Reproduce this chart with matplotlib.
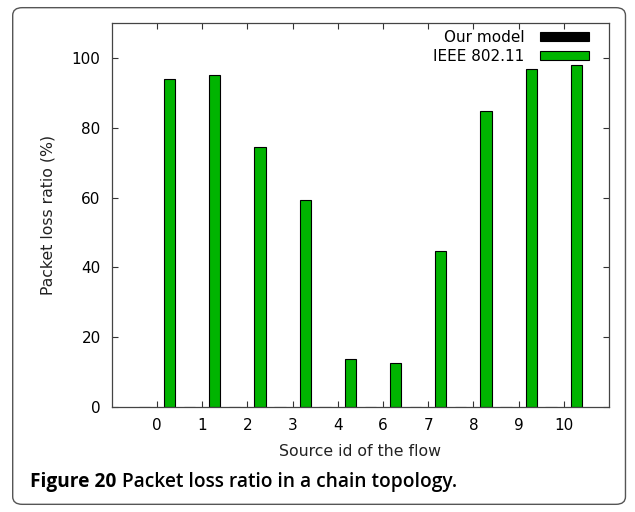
import numpy as np
import matplotlib
matplotlib.use("Agg")
import matplotlib.pyplot as plt
from matplotlib.patches import FancyBboxPatch

# data
sources = ['0', '1', '2', '3', '4', '6', '7', '8', '9', '10']
our_model = [0, 0, 0, 0, 0, 0, 0, 0, 0, 0]
ieee = [94, 95, 74.6, 59.3, 13.9, 12.5, 44.7, 84.8, 96.9, 98.0]

plt.rcParams['font.family'] = 'DejaVu Sans'

fig = plt.figure(figsize=(6.35, 5.12), dpi=100)

# rounded frame around figure + caption
frame = FancyBboxPatch((0.02, 0.015), 0.965, 0.97, boxstyle="round,pad=0,rounding_size=0.015",
                       transform=fig.transFigure, facecolor='none', edgecolor='#555555', lw=1.0,
                       zorder=0)
fig.patches.append(frame)

ax = fig.add_axes([0.176, 0.205, 0.783, 0.75])
x = np.arange(len(sources))
w = 0.25
ax.bar(x - 0.28, our_model, w, color='black', edgecolor='black', lw=0.8, label='Our model')
ax.bar(x + 0.28, ieee, w, color='#00b400', edgecolor='black', lw=0.8, label='IEEE 802.11')

ax.set_xlim(-1, 10)
ax.set_ylim(0, 110)
ax.set_xticks(x)
ax.set_xticklabels(sources)
ax.set_yticks([0, 20, 40, 60, 80, 100])
ax.tick_params(direction='in', top=True, right=True, labelsize=11, length=4, color='#333333', pad=8)
for s in ax.spines.values():
    s.set_color('#444444')
    s.set_linewidth(0.9)

ax.set_xlabel('Source id of the flow', fontsize=11.3, color='#222222', labelpad=8)
ax.set_ylabel('Packet loss ratio (%)', fontsize=11.3, color='#222222', labelpad=12)

leg = ax.legend(loc='upper right', bbox_to_anchor=(0.965, 0.99), markerfirst=False, frameon=False,
                fontsize=11, handlelength=3.2, handleheight=0.6, borderaxespad=0, borderpad=0.2,
                labelspacing=0.25, handletextpad=1.0)

t1 = fig.text(0.047, 0.048, 'Figure 20', fontsize=13.8, fontweight='bold', family='Open Sans',
              va='baseline')
fig.add_artist(plt.Annotation('Packet loss ratio in a chain topology.', xy=(1, 0), xycoords=t1,
                              xytext=(4.5, 0), textcoords='offset points', fontsize=13.8,
                              fontweight='semibold', family='Open Sans', va='bottom'))

fig.savefig('out.png', dpi=100)
